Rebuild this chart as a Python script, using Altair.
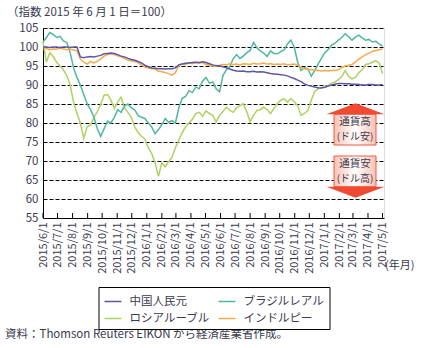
import altair as alt
import pandas as pd

# ---- data (weekly readings, index 2015/6/1 = 100) ----
start_date = "2015-06-01"
n_weeks = 101
series_names = ["中国人民元", "ロシアルーブル", "ブラジルレアル", "インドルピー"]
series_colors = ["#5b57a6", "#b0d262", "#4fb8a0", "#f7aa4a"]

china = [100.0, 100.0, 99.9, 100.0, 100.0, 99.9, 100.0, 100.0, 99.9, 100.0, 100.0,
         97.4, 97.2, 97.4, 97.5, 97.4, 97.6, 97.8, 98.2, 98.3, 98.4,
         98.3, 98.0, 97.6, 97.4, 97.0, 96.7, 96.5, 96.2, 95.8, 95.2,
         94.8, 94.5, 94.4, 94.3, 94.3, 94.2, 94.3, 94.3, 94.5, 95.3,
         95.5, 95.7, 95.8, 95.9, 96.0, 95.9, 96.1, 95.9, 95.6, 95.3,
         95.1, 95.0, 94.8, 94.5, 94.2, 93.9, 93.7, 93.6, 93.7, 93.5,
         93.5, 93.6, 93.4, 93.5, 93.4, 93.2, 93.0, 92.9, 92.8, 92.7,
         92.6, 92.4, 92.0, 91.7, 91.3, 90.9, 90.3, 89.9, 89.7, 89.5,
         89.3, 89.2, 89.4, 89.7, 90.0, 90.2, 90.4, 90.4, 90.3, 90.3,
         90.2, 90.2, 90.1, 90.0, 90.0, 90.1, 90.1, 90.0, 90.0, 90.1]

brazil = [101.3, 102.5, 103.8, 103.3, 102.5, 102.8, 101.6, 101.2, 98.5, 94.5, 92.0,
          90.0, 87.5, 85.0, 83.5, 81.5, 78.5, 76.5, 78.5, 80.5, 80.0,
          81.5, 83.5, 82.8, 84.5, 85.0, 84.0, 83.5, 82.0, 81.5, 81.2,
          80.0, 79.0, 77.2, 78.2, 79.6, 81.2, 80.2, 80.6, 80.0, 84.0,
          86.5, 87.0, 88.5, 88.0, 89.5, 89.0, 91.0, 92.0, 90.5, 90.8,
          89.0, 88.2, 92.5, 94.0, 94.8, 96.9, 98.0, 97.0, 97.6, 98.5,
          99.1, 101.2, 99.8, 99.0, 98.4, 97.5, 99.0, 98.3, 98.2, 98.8,
          99.2, 100.8, 101.8, 100.0, 96.0, 93.8, 94.6, 94.2, 92.3, 93.8,
          95.5, 97.0, 98.5, 99.3, 100.5, 101.0, 101.8, 102.5, 103.5, 102.7,
          101.8, 102.6, 103.1, 102.4, 101.8, 102.0, 101.3, 101.5, 100.8, 100.2]

russia = [101.5, 96.0, 98.5, 97.5, 96.0, 95.0, 94.0, 92.5, 90.0, 85.5, 82.5,
          80.0, 76.0, 79.0, 79.5, 81.5, 83.0, 85.0, 87.3, 87.5, 86.0,
          83.8, 85.5, 86.8, 84.0, 82.8, 81.5, 79.0, 77.5, 76.5, 75.8,
          73.5, 72.0, 69.5, 66.0, 69.5, 68.5, 69.8, 71.0, 73.5, 75.5,
          77.5, 79.0, 80.0, 81.0, 82.5, 82.8, 81.8, 83.2, 82.5, 82.0,
          80.3, 82.0, 83.0, 84.2, 83.3, 82.8, 84.0, 84.6, 85.1, 83.0,
          80.3, 82.0, 83.3, 83.5, 84.2, 83.5, 82.5, 83.8, 85.1, 86.0,
          86.4, 85.5, 86.4, 85.6, 84.6, 82.0, 82.5, 83.3, 86.0, 88.3,
          89.0, 89.4, 89.5, 89.9, 90.5, 90.8, 91.4, 92.2, 93.8, 92.3,
          91.6, 92.0, 93.2, 94.0, 95.4, 95.6, 96.0, 96.4, 95.8, 93.0]

india = [100.0, 99.6, 99.3, 99.5, 99.4, 99.7, 99.5, 99.3, 99.4, 99.2, 99.0,
         96.8, 96.0, 95.5, 96.2, 95.8, 96.3, 96.8, 97.6, 98.0, 98.2,
         98.0, 97.7, 97.4, 97.0, 96.5, 96.4, 96.2, 95.9, 95.2, 94.7,
         94.5, 94.3, 94.2, 93.6, 93.5, 93.3, 93.0, 92.6, 93.2, 95.2,
         95.6, 95.4, 95.9, 95.6, 96.0, 95.7, 95.9, 95.4, 95.2, 95.0,
         94.9, 95.2, 95.4, 95.3, 95.6, 95.4, 95.5, 95.3, 95.6, 95.5,
         95.4, 95.7, 95.5, 95.6, 95.8, 95.5, 95.6, 95.4, 95.5, 95.4,
         95.6, 95.3, 95.4, 95.5, 95.2, 94.6, 94.3, 94.0, 94.1, 93.8,
         93.9, 93.7, 93.8, 93.7, 93.9, 93.8, 94.0, 94.6, 95.0, 95.2,
         95.4, 96.0, 96.8, 97.4, 98.0, 98.4, 98.8, 99.1, 99.3, 99.5]

tick_months = ["2015-06-01", "2015-07-01", "2015-08-01", "2015-09-01", "2015-10-01",
               "2015-11-01", "2015-12-01", "2016-01-01", "2016-02-01", "2016-03-01",
               "2016-04-01", "2016-05-01", "2016-06-01", "2016-07-01", "2016-08-01",
               "2016-09-01", "2016-10-01", "2016-11-01", "2016-12-01", "2017-01-01",
               "2017-02-01", "2017-03-01", "2017-04-01", "2017-05-01"]
y_ticks = [55, 60, 65, 70, 75, 80, 85, 90, 95, 100, 105]

# ---- build tables ----
dates = pd.date_range(start_date, periods=n_weeks, freq="7D")
series_values = {"中国人民元": china, "ブラジルレアル": brazil,
                 "ロシアルーブル": russia, "インドルピー": india}
rows = []
for name in ["ロシアルーブル", "ブラジルレアル", "インドルピー", "中国人民元"]:
    for d, v in zip(dates, series_values[name]):
        rows.append({"date": d, "value": v, "series": name})
df = pd.DataFrame(rows)
ticks_df = pd.DataFrame({"date": pd.to_datetime(tick_months)})


def dt(s):
    t = pd.Timestamp(s)
    return alt.DateTime(year=t.year, month=t.month, date=t.day)


FONT = "Noto Sans CJK JP"
TXT = "#3a3a4e"

x_scale = alt.Scale(domain=[dt("2015-06-01"), dt("2017-05-04")])
y_scale = alt.Scale(domain=[55, 105], nice=False)
x_axis = alt.Axis(values=[dt(s) for s in tick_months], format="%Y/%-m/%-d",
                  labelAngle=-90, tickSize=0, labelPadding=4, grid=False,
                  domainColor="black", labelFont=FONT, labelFontSize=11,
                  labelColor=TXT, title=None, labelOverlap=False,
                  labelSeparation=0, labelBound=False, labelFlush=False)

lines = alt.Chart(df).mark_line(strokeWidth=1.5).encode(
    x=alt.X("date:T", scale=x_scale, axis=x_axis),
    y=alt.Y("value:Q", scale=y_scale,
            axis=alt.Axis(values=y_ticks, tickSize=0, labelPadding=5,
                          grid=True, gridDash=[4, 2], gridColor="black", gridWidth=1,
                          domainColor="black", labelFont=FONT, labelFontSize=11.5,
                          labelColor=TXT, title=None)),
    color=alt.Color("series:N",
                    scale=alt.Scale(domain=series_names, range=series_colors),
                    legend=alt.Legend(orient="none", legendX=55.5, legendY=259,
                                      columns=2, title=None, strokeColor="black",
                                      fillColor="white", padding=5,
                                      symbolType="stroke", symbolSize=289,
                                      symbolStrokeWidth=1.5, labelFont=FONT,
                                      labelFontSize=11.5, labelColor=TXT,
                                      labelOffset=7, columnPadding=5, rowPadding=2)),
)

inner_ticks = alt.Chart(ticks_df).mark_rule(color="black", strokeWidth=1).encode(
    x=alt.X("date:T", scale=x_scale, axis=x_axis),
    y=alt.value(190), y2=alt.value(185),
)

grad = alt.LinearGradient(gradient="linear", x1=0, x2=1, y1=0, y2=0,
                          stops=[alt.GradientStop(color="#f9c2b4", offset=0),
                                 alt.GradientStop(color="#ffffff", offset=0.5),
                                 alt.GradientStop(color="#f9c2b4", offset=1)])
one = ticks_df.head(1)
up_body = alt.Chart(one).mark_rect(fill=grad, stroke="#ee5a45", strokeWidth=1).encode(
    x=alt.value(291), x2=alt.value(333), y=alt.value(86.3), y2=alt.value(117))
down_body = alt.Chart(one).mark_rect(fill=grad, stroke="#ee5a45", strokeWidth=1).encode(
    x=alt.value(291), x2=alt.value(333), y=alt.value(128), y2=alt.value(158.7))
up_head = alt.Chart(one).mark_point(
    shape="M-1,0.19L0,-0.19L1,0.19Z", size=3364, filled=True, opacity=1,
    color="#f04a33").encode(x=alt.value(312.5), y=alt.value(80.8))
down_head = alt.Chart(one).mark_point(
    shape="M-1,-0.19L0,0.19L1,-0.19Z", size=3364, filled=True, opacity=1,
    color="#f04a33").encode(x=alt.value(312.5), y=alt.value(164.2))


def label(txt, x, y, align="center", size=11):
    return alt.Chart(one).mark_text(
        text=txt, font=FONT, fontSize=size, color=TXT, align=align,
        baseline="middle").encode(x=alt.value(x), y=alt.value(y))


texts = [
    label("通貨高", 312, 93.5, size=10.5), label("(ドル安)", 312, 108.5, size=10),
    label("通貨安", 312, 135.5, size=10.5), label("(ドル高)", 312, 150.5, size=10),
    label("(年月)", 342, 238, align="left", size=11),
    label("（指数 2015 年 6 月 1 日＝100）", -36, -15, align="left", size=11.5),
    label("資料：Thomson Reuters EIKON から経済産業省作成。", -38, 307, align="left", size=11.5),
]

chart = alt.layer(lines, inner_ticks, up_body, down_body, up_head, down_head, *texts).properties(
    width=341, height=190,
    padding={"left": 43, "top": 28, "right": 43, "bottom": 130},
    autosize=alt.AutoSizeParams(type="none"),
).configure_view(stroke="black", strokeWidth=1).configure(background="white")

chart.save("out.html", embed_options={"renderer": "svg", "actions": False})
